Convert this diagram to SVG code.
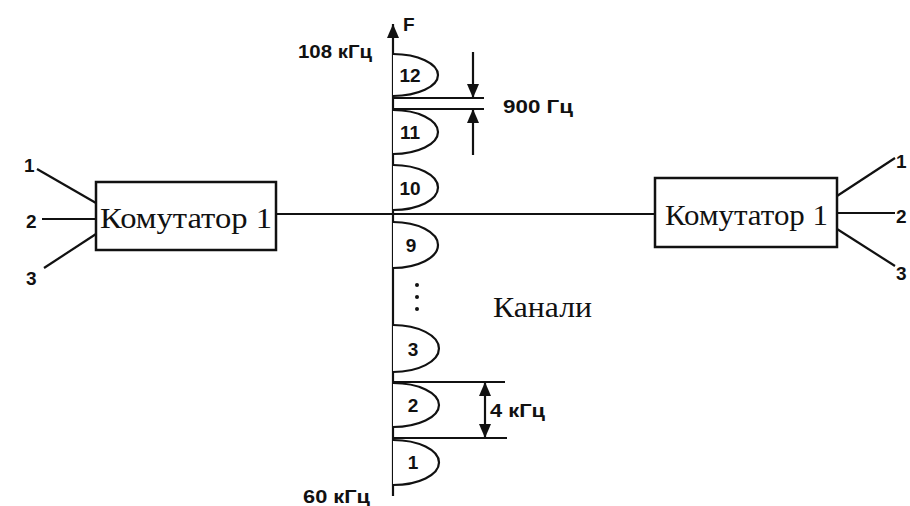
<svg xmlns="http://www.w3.org/2000/svg" width="910" height="506" viewBox="0 0 910 506">
<defs>
<style>
.ln{stroke:#111;stroke-width:2.2;fill:none}
.box{stroke:#111;stroke-width:2.5;fill:#fff}
.lobe{stroke:#111;stroke-width:2.2;fill:#fff}
.s{font-family:"Liberation Sans",Arial,sans-serif;font-weight:bold;font-size:19px;fill:#111}
.n{font-family:"Liberation Sans",Arial,sans-serif;font-weight:bold;font-size:19px;fill:#111}
.sr{font-family:"Liberation Serif","Times New Roman",serif;font-size:29px;fill:#111}
</style>
<marker id="ah" viewBox="0 0 14 12" refX="14" refY="6" markerWidth="14" markerHeight="12" markerUnits="userSpaceOnUse" orient="auto"><path d="M0,0 L14,6 L0,12 Z" fill="#111"/></marker>
</defs>
<rect width="910" height="506" fill="#fff"/>
<g id="connectors">
<line class="ln" x1="37" y1="169" x2="96" y2="203"/>
<line class="ln" x1="42" y1="219" x2="96" y2="219"/>
<line class="ln" x1="44" y1="268" x2="96" y2="234"/>
<line class="ln" x1="277" y1="214" x2="655" y2="214"/>
<line class="ln" x1="837" y1="196" x2="895" y2="158"/>
<line class="ln" x1="837" y1="213" x2="895" y2="213"/>
<line class="ln" x1="837" y1="229" x2="895" y2="266"/>
</g>
<g id="left-switch">
<rect class="box" x="96" y="182" width="180" height="68"/>
<text class="sr" x="100" y="228" textLength="172" lengthAdjust="spacingAndGlyphs">Комутатор 1</text>
<text class="s" x="24" y="172" font-size="18">1</text>
<text class="s" x="26" y="228" font-size="18">2</text>
<text class="s" x="26" y="285" font-size="18">3</text>
</g>
<g id="right-switch">
<rect class="box" x="655" y="178" width="182" height="69"/>
<text class="sr" x="665" y="225" textLength="163" lengthAdjust="spacingAndGlyphs">Комутатор 1</text>
<text class="s" x="896" y="168" font-size="18">1</text>
<text class="s" x="896" y="223" font-size="18">2</text>
<text class="s" x="896" y="280" font-size="18">3</text>
</g>
<g id="axis">
<line class="ln" x1="393" y1="496" x2="393" y2="24" marker-end="url(#ah)"/>
<text class="s" x="403" y="31" font-size="17">F</text>
<text class="s" x="298" y="58" textLength="74" lengthAdjust="spacingAndGlyphs">108 кГц</text>
<text class="s" x="303" y="503" font-size="17" textLength="67" lengthAdjust="spacingAndGlyphs">60 кГц</text>
</g>
<g id="channels">
<path class="lobe" d="M393,54 A45,21 0 0 1 393,96"/>
<text class="n" x="410" y="82" text-anchor="middle">12</text>
<path class="lobe" d="M393,110 A45,22 0 0 1 393,154"/>
<text class="n" x="410" y="139" text-anchor="middle">11</text>
<path class="lobe" d="M393,165 A45,22.5 0 0 1 393,210"/>
<text class="n" x="410" y="195" text-anchor="middle">10</text>
<path class="lobe" d="M393,222 A45,23 0 0 1 393,268"/>
<text class="n" x="411" y="252" text-anchor="middle">9</text>
<circle cx="417" cy="285" r="2" fill="#111"/>
<circle cx="417" cy="297" r="2" fill="#111"/>
<circle cx="417" cy="309" r="2" fill="#111"/>
<path class="lobe" d="M393,325 A46,23.5 0 0 1 393,372"/>
<text class="n" x="413" y="356" text-anchor="middle">3</text>
<path class="lobe" d="M393,383 A46,22 0 0 1 393,427"/>
<text class="n" x="413" y="412" text-anchor="middle">2</text>
<path class="lobe" d="M393,440 A46,22.5 0 0 1 393,485"/>
<text class="n" x="413" y="469" text-anchor="middle">1</text>
<text class="sr" x="493" y="317" textLength="99" lengthAdjust="spacingAndGlyphs">Канали</text>
</g>
<g id="dim-900">
<line class="ln" x1="393" y1="98" x2="484" y2="98"/>
<line class="ln" x1="393" y1="109" x2="484" y2="109"/>
<line class="ln" x1="473" y1="52" x2="473" y2="98" marker-end="url(#ah)"/>
<line class="ln" x1="473" y1="155" x2="473" y2="109" marker-end="url(#ah)"/>
<text class="s" x="503" y="113" textLength="70" lengthAdjust="spacingAndGlyphs">900 Гц</text>
</g>
<g id="dim-4k">
<line class="ln" x1="393" y1="382" x2="505" y2="382"/>
<line class="ln" x1="393" y1="438" x2="507" y2="438"/>
<line class="ln" x1="485" y1="410" x2="485" y2="382" marker-end="url(#ah)"/>
<line class="ln" x1="485" y1="410" x2="485" y2="438" marker-end="url(#ah)"/>
<text class="s" x="490" y="417" font-size="17" textLength="55" lengthAdjust="spacingAndGlyphs">4 кГц</text>
</g>
</svg>
